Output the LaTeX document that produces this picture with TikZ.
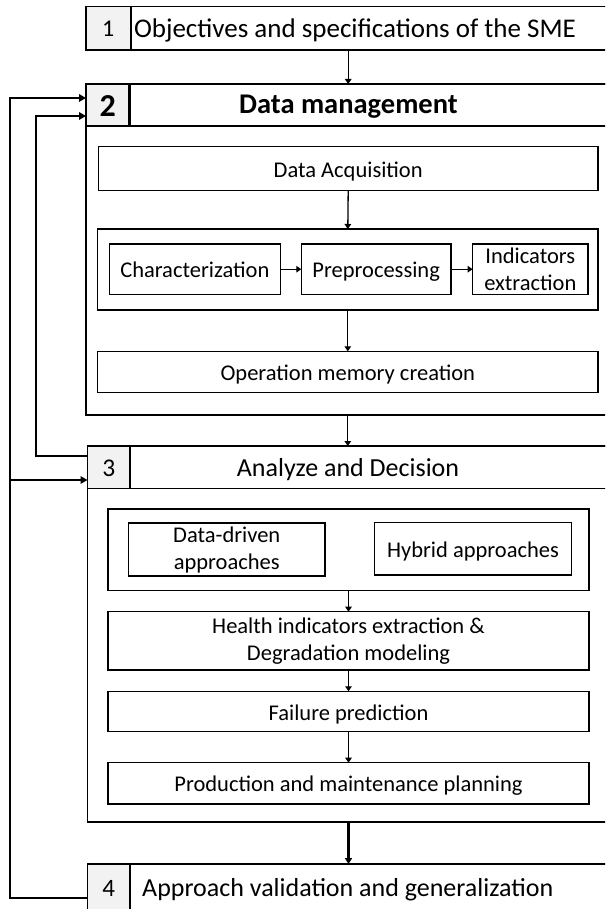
\documentclass[tikz,border=0pt]{standalone}
\usepackage{fontspec}
\setmainfont{Carlito}
\usetikzlibrary{arrows.meta}
\definecolor{numgray}{HTML}{F2F2F2}
\begin{document}
\begin{tikzpicture}[x=1pt,y=-1pt,
  ibox/.style={draw=black, line width=1.5pt, inner sep=0pt, outer sep=0pt, align=center,
    font=\fontsize{22.5pt}{27pt}\selectfont},
  one/.style={text height=19pt, text depth=2pt},
  frame/.style={draw=black, inner sep=0pt, outer sep=0pt},
  numcell/.style={draw=black, fill=numgray, inner sep=0pt, outer sep=0pt},
  numtxt/.style={inner sep=0pt, anchor=base},
  title/.style={inner sep=0pt, font=\fontsize{26pt}{31pt}\selectfont},
  arr/.style={line width=1.3pt, -{Triangle[length=5pt,width=6.5pt]}},
  fbarr/.style={line width=2pt, line join=miter, -{Triangle[length=7pt,width=7.5pt]}}
]
\useasboundingbox (0,0) rectangle (605,909);
\clip (0,0) rectangle (605,909);

% ---------- Box 1 ----------
\node[numcell, line width=1.6pt, minimum width=45pt, minimum height=43.3pt, anchor=north west] (n1) at (85.7,6.7) {};
\node[frame, line width=1.6pt, minimum width=489.3pt, minimum height=43.3pt, anchor=north west] (t1) at (130.7,6.7) {};
\node[numtxt, font=\fontsize{24pt}{28pt}\selectfont] (d1) at (108.2,37) {1};
\node[title, anchor=base west, font=\fontsize{27pt}{32pt}\selectfont] (l1) at (133.8,37.3) {Objectives and specifications of the SME};

% ---------- Box 2 ----------
\node[frame, line width=2.6pt, minimum width=534pt, minimum height=331pt, anchor=north west] (f2) at (86,84) {};
\node[frame, line width=2.6pt, minimum width=490.7pt, minimum height=42pt, anchor=north west] (h2) at (129.3,84) {};
\node[numcell, line width=2.6pt, minimum width=43.3pt, minimum height=42pt, anchor=north west] (n2) at (86,84) {};
\node[numtxt, font=\fontsize{32pt}{36pt}\selectfont\bfseries] (d2) at (107.8,116.5) {2};
\node[title, anchor=base, font=\fontsize{28.5pt}{33pt}\selectfont\bfseries] (l2) at (348.4,113.5) {Data management};

\node[ibox, one, minimum width=499.6pt, minimum height=44pt] (acq) at (348.2,168.7) {Data Acquisition};
\node[ibox, minimum width=500.4pt, minimum height=81pt] (grp1) at (347.8,269.5) {};
\node[ibox, one, minimum width=171pt, minimum height=50.5pt] (ch) at (194.8,269.2) {Characterization};
\node[ibox, one, minimum width=149.7pt, minimum height=50.5pt] (pre) at (376.15,269.2) {Preprocessing};
\node[ibox, minimum width=115.4pt, minimum height=50.5pt] (ind) at (530.3,269.2) {Indicators\\extraction};
\node[ibox, one, minimum width=500.4pt, minimum height=41pt] (om) at (347.8,371.8) {Operation memory creation};

% ---------- Box 3 ----------
\node[frame, line width=1.6pt, minimum width=532.5pt, minimum height=375.7pt, anchor=north west] (f3) at (87.5,446) {};
\node[frame, line width=1.6pt, minimum width=490pt, minimum height=42.3pt, anchor=north west] (h3) at (130,446) {};
\node[numcell, line width=1.6pt, minimum width=42.5pt, minimum height=42.3pt, anchor=north west] (n3) at (87.5,446) {};
\node[numtxt, font=\fontsize{25.5pt}{30pt}\selectfont] (d3) at (108.8,476.5) {3};
\node[title, anchor=base] (l3) at (348,476) {Analyze and Decision};

\node[ibox, minimum width=481pt, minimum height=81.3pt] (grp2) at (348.5,549.65) {};
\node[ibox, minimum width=196.5pt, minimum height=53pt] (dd) at (226.75,549.5) {Data-driven\\approaches};
\node[ibox, one, minimum width=196.8pt, minimum height=52.3pt] (hy) at (473,548.85) {Hybrid approaches};
\node[ibox, minimum width=481pt, minimum height=58.3pt] (he) at (348.5,640.85) {Health indicators extraction \&\\Degradation modeling};
\node[ibox, one, minimum width=481pt, minimum height=40.4pt] (fp) at (348.5,711.5) {Failure prediction};
\node[ibox, one, minimum width=481pt, minimum height=41.3pt] (pp) at (348.5,783.35) {Production and maintenance planning};

% ---------- Box 4 ----------
\node[numcell, line width=1.4pt, minimum width=42.5pt, minimum height=47pt, anchor=north west] (n4) at (87.5,864) {};
\node[frame, line width=1.4pt, minimum width=490pt, minimum height=47pt, anchor=north west] (t4) at (130,864) {};
\node[numtxt, font=\fontsize{25pt}{29pt}\selectfont] (d4) at (108.8,896) {4};
\node[title, anchor=base west] (l4) at (142,896) {Approach validation and generalization};

% ---------- vertical arrows ----------
\draw[arr] (t1.south -| acq) -- (f2.north -| acq);
\draw[arr] (acq.south) -- (grp1.north);
\draw[arr] (grp1.south) -- (om.north);
\draw[arr] (f2.south -| om) -- (f3.north -| om);
\draw[arr] (grp2.south) -- (he.north);
\draw[arr] (he.south) -- (fp.north);
\draw[arr] (fp.south) -- (pp.north);
\draw[line width=2.3pt, -{Triangle[length=6pt,width=7pt]}] (f3.south -| pp) -- (t4.north -| pp);
\draw[arr] (ch.east) -- (pre.west);
\draw[arr] (pre.east) -- (ind.west);

% ---------- feedback loops ----------
\coordinate (oB) at (9.6,898);
\coordinate (oT) at (9.6,98);
\coordinate (oM) at (9.6,480);
\coordinate (iB) at (35.5,456);
\coordinate (iT) at (35.5,116);
\draw[fbarr] (n4.west |- oB) -- (oB) -- (oT) -- (n2.west |- oT);
\draw[fbarr] (oM) -- (n3.west |- oM);
\draw[fbarr] (n3.west |- iB) -- (iB) -- (iT) -- (n2.west |- iT);
\end{tikzpicture}
\end{document}
